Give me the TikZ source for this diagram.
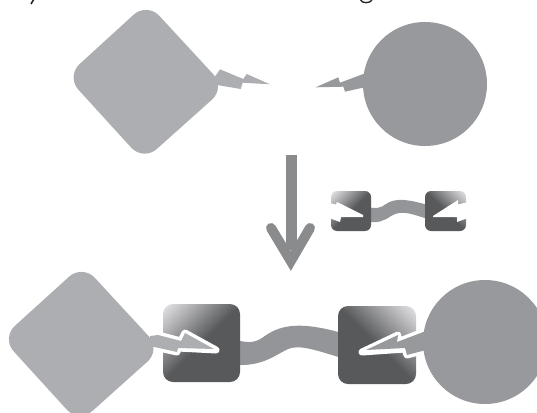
\documentclass[tikz,border=0pt]{standalone}
\definecolor{diamondgrey}{HTML}{ADAEB1}
\definecolor{circlegrey}{HTML}{98999C}
\definecolor{tapegrey}{HTML}{939598}
\definecolor{arrowgrey}{HTML}{8A8B8D}
\definecolor{capdark}{HTML}{58595B}
\definecolor{caplight}{HTML}{E6E6E8}
\pgfdeclareverticalshading{capfade}{100bp}{
  color(0bp)=(capdark); color(50bp)=(capdark); color(85bp)=(caplight); color(100bp)=(caplight)}
\tikzset{
  diamondfill/.style={fill=diamondgrey,rounded corners=18pt},
  circlefill/.style={fill=circlegrey},
  cutout/.style={draw=white,fill=white,line width=7pt,line join=round},
  tapefill/.style={fill=tapegrey},
  capleft/.style={shading=capfade,shading angle=45},
  capright/.style={shading=capfade,shading angle=-45},
}
\newcommand{\diamondpath}{(147,2.5) -- (225.5,87.5) -- (143.4,161) -- (66.2,76.3) -- cycle}
\begin{document}
\begin{tikzpicture}[x=1pt,y=-1pt]
\useasboundingbox (0,0) rectangle (537,412);

% clipped descenders of the caption line
\draw[line width=1.6pt,color=black!85] (34,-1) -- (31,4);
\draw[line width=1.4pt,color=black!85] (360.5,0) .. controls (362,3.5) and (370,3.5) .. (372,0);

% upper pair, unconnected
\fill[diamondfill] \diamondpath;
\fill[diamondgrey] (214,78) -- (220,69.3) -- (243.3,79) -- (246.7,74) -- (270,84.3)
  -- (242.7,82.7) -- (240.7,89) -- (217,85) -- cycle;
\fill[circlefill] (425,84) circle[radius=62];
\fill[circlegrey] (315.7,87.3) -- (338.3,77.3) -- (340,82.7) -- (366,73)
  -- (366,87) -- (345,91.7) -- (343.3,86.7) -- cycle;

% transition arrow
\fill[arrowgrey] (285.5,155) rectangle (296.5,250);
\draw[arrowgrey,line width=10pt,line cap=round,line join=miter] (271,228) -- (290.8,261) -- (310,228);

% small connector, shown on its own
\path[tapefill] (368,207) .. controls (376,209) and (381,208) .. (386,204)
  .. controls (396,197) and (410,200) .. (428,205) -- (428,219)
  .. controls (414,215) and (402,209) .. (391,216)
  .. controls (384,221) and (378,223) .. (368,222) -- cycle;
\shade[capleft,rounded corners=6pt] (331,191) rectangle (371,231);
\shade[capright,rounded corners=6pt] (425,191) rectangle (466,231);
\fill[white] (329,203) -- (336,204.5) -- (337,202) -- (363,215) -- (363,217) -- (341,217) -- (340,222) -- (329,218) -- cycle;
\fill[white] (468,202) -- (458,204.5) -- (458,200) -- (433,216) -- (433,217) -- (457,217) -- (457,222) -- (468,218) -- cycle;

% lower pair, joined by the connector
\path[tapefill] (236,340) .. controls (248,343) and (254,343) .. (262,338)
  .. controls (278,326) and (296,320) .. (342,333) -- (342,358)
  .. controls (318,351) and (300,344) .. (288,349)
  .. controls (272,357) and (262,366) .. (236,365) -- cycle;
\shade[capleft,rounded corners=10pt] (163,304) rectangle (240,382);
\shade[capright,rounded corners=10pt] (338,306) rectangle (416,384);

\path[cutout] (150,336) -- (158,335) -- (181,341) -- (185,333) -- (216,350)
  -- (178,348) -- (177,352) -- (150,346) -- cycle;
\fill[diamondgrey] (150,336) -- (158,335) -- (181,341) -- (185,333) -- (214,349)
  -- (178,348) -- (177,352) -- (150,346) -- cycle;
\fill[diamondfill] (82.5,264.5) -- (161,349.5) -- (79,423) -- (1.5,338) -- cycle;

\path[cutout] (362,352) -- (398,335) -- (397,342) -- (426,331) -- (426,350)
  -- (407,355) -- (405,349) -- cycle;
\fill[circlegrey] (366,350) -- (398,335) -- (397,342) -- (426,331) -- (426,350)
  -- (407,355) -- (405,348) -- cycle;
\fill[circlefill] (485,342) circle[radius=62];
\end{tikzpicture}
\end{document}
